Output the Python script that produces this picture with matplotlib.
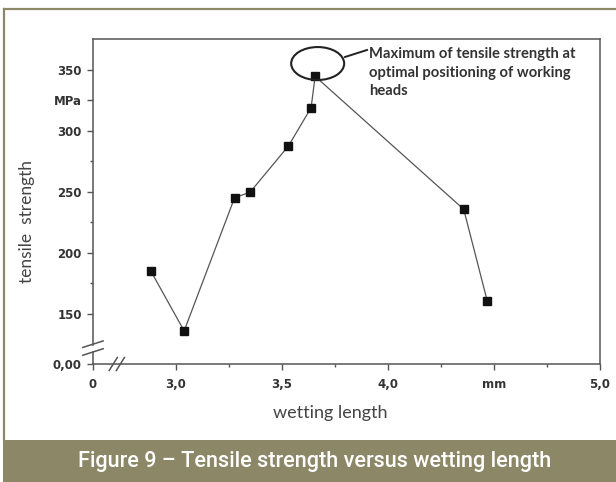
import matplotlib
matplotlib.use('Agg')
import matplotlib.pyplot as plt
from matplotlib.patches import Ellipse, Rectangle
from matplotlib.lines import Line2D

# data
wetting_length = [2.88, 3.038, 3.276, 3.349, 3.53, 3.637, 3.656, 4.357, 4.468]
tensile_strength = [185.5, 136.1, 245.3, 249.8, 287.7, 319.1, 344.8, 235.8, 160.7]

x_ticks = [2.608, 3.0, 3.5, 4.0, 4.5, 5.0]
x_ticklabels = ['0', '3,0', '3,5', '4,0', 'mm', '5,0']
x_minor = [3.25, 3.75, 4.25, 4.75]

y_ticks = [109.0, 150, 200, 250, 300, 325, 350]
y_ticklabels = ['0,00', '150', '200', '250', '300', 'MPa', '350']
y_minor = [175, 225, 275]

olive = '#8c8867'
axis_col = '#555555'
label_col = '#333333'

fig = plt.figure(figsize=(6.16, 4.82), dpi=100)
W, H = 616.0, 482.0

# outer frame and caption band
fig.add_artist(Line2D([4 / W, 1.0], [1 - 9 / H, 1 - 9 / H], color=olive, lw=1.6))
fig.add_artist(Line2D([4 / W, 4 / W], [1 - 9 / H, 42 / H], color=olive, lw=1.6))
fig.add_artist(Rectangle((3 / W, 0), 1.0, 42 / H, color=olive, lw=0))
fig.text(315 / W, 21 / H, 'Figure 9 \u2013 Tensile strength versus wetting length',
         color='white', fontsize=15.6, family='Roboto', weight='medium',
         ha='center', va='center')

ax = fig.add_axes([93 / W, 1 - 364 / H, 507 / W, 325 / H])
ax.plot(wetting_length, tensile_strength, '-', color='#555555', lw=0.9, zorder=2)
ax.plot(wetting_length, tensile_strength, 's', color='#111111', ms=5.5, zorder=3)

ax.set_xlim(2.608, 5.0)
ax.set_ylim(109.0, 375.4)

ax.set_xticks(x_ticks)
ax.set_xticklabels(x_ticklabels)
ax.set_xticks(x_minor, minor=True)
ax.set_yticks(y_ticks)
ax.set_yticklabels(y_ticklabels)
ax.set_yticks(y_minor, minor=True)

for lab in ax.get_xticklabels() + ax.get_yticklabels():
    lab.set_fontweight('bold')
    lab.set_fontsize(8.5)
    lab.set_color(label_col)

ax.tick_params(which='major', direction='out', length=4, width=1, color=axis_col, pad=4)
ax.tick_params(which='minor', direction='out', length=2.5, width=1, color=axis_col)
ax.tick_params(axis='x', pad=6)

for s in ax.spines.values():
    s.set_color(axis_col)
    s.set_linewidth(1.1)

# ellipse and annotation around maximum
ell = Ellipse((3.668, 355.3), 0.25, 27, fill=False, edgecolor='#222222', lw=1.5,
              zorder=4, clip_on=False)
ax.add_patch(ell)
fig.add_artist(Line2D([345 / W, 367 / W], [1 - 57 / H, 1 - 50 / H], color='#222222', lw=1.4))
note_lines = ['Maximum of tensile strength at', 'optimal positioning of working', 'heads']
for i, t in enumerate(note_lines):
    fig.text(369 / W, 1 - (54 + 18.5 * i) / H, t, fontsize=10.6, family='Lato',
             weight='bold', color='#333333', ha='left', va='center')

# axis breaks
for dy in (-0.012, 0.012):
    ax.plot([-0.02, 0.02], [0.049 + dy - 0.01, 0.049 + dy + 0.01], color=axis_col,
            lw=1.1, transform=ax.transAxes, clip_on=False, zorder=5)
ax.add_patch(Rectangle((-0.004, 0.042), 0.008, 0.014, transform=ax.transAxes,
                       color='white', clip_on=False, zorder=4))
for dx in (-0.007, 0.007):
    ax.plot([0.047 + dx - 0.008, 0.047 + dx + 0.008], [-0.02, 0.02], color=axis_col,
            lw=1.1, transform=ax.transAxes, clip_on=False, zorder=5)

fig.text(330 / W, 1 - 413 / H, 'wetting length', fontsize=13, family='Lato',
         color='#444444', ha='center', va='center')
fig.text(27 / W, 1 - 222 / H, 'tensile  strength', fontsize=12.5, family='Lato',
         color='#444444', ha='center', va='center', rotation=90)

fig.savefig('out.png', dpi=100)
